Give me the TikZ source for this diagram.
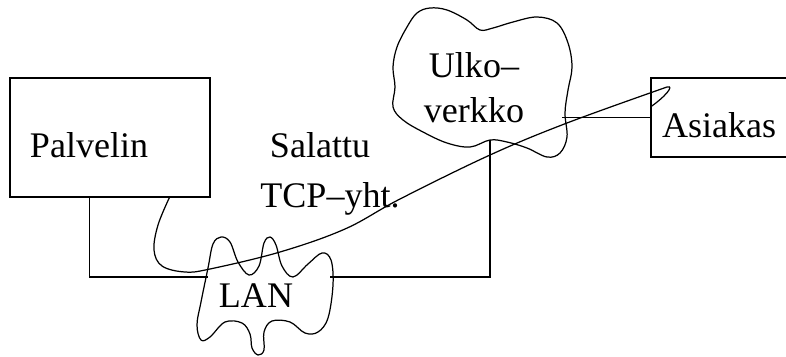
\documentclass[tikz,border=0pt]{standalone}
\usepackage{fontspec}
\setmainfont{Liberation Serif}
\usepackage{tikz}

\tikzset{
    laatikko/.style={draw,rectangle,align=left,text height=0.78cm,text depth=0cm},
    pilvi/.style={smooth cycle,tension=0.6},
}

\begin{document}
\begin{tikzpicture}[x=0.2mm,y=-0.2mm,line width=0.7pt,font=\fontsize{20.5}{25.6}\selectfont]
    \clip(0,0)rectangle(786,357);
    % 绘制两台主机
    \node[laatikko,text width=3.2cm,inner xsep=0.4cm,minimum height=2.38cm](palvelin)at(110,137.5){Palvelin};
    \node[laatikko,text width=2.6cm,inner xsep=0.22cm,minimum height=1.58cm](asiakas)at(727,117.5){Asiakas};
    % 绘制局域网
    \draw plot[pilvi]coordinates{(208,268)(213,244)(221,237)(230,242)(238,262)(249,275)(259,266)(264,243)(270,237)(276,245)(282,266)(293,277)(308,264)(322,253)(331,260)(333,285)(328,318)(318,332)(305,333)(290,322)(272,321)(264,332)(264,350)(258,355)(252,348)(250,334)(242,323)(225,322)(210,337)(201,340)(197,325)(201,302)};
    \node[anchor=base](lan)at(256,307){LAN};
    % 绘制外网
    \draw plot[pilvi]coordinates{(430,8)(447,10)(467,20)(480,30)(493,28)(513,22)(537,17)(557,23)(568,43)(572,67)(568,90)(565,113)(567,137)(560,153)(547,157)(527,148)(507,142)(490,140)(470,147)(447,143)(423,132)(403,120)(393,107)(395,87)(393,67)(397,47)(407,27)(417,13)};
    \node[align=center](ulko)at(474,88){Ulko--\\verkko};
    % 连线
    \coordinate(lanw)at(208,277);
    \coordinate(lane)at(330,277);
    \coordinate(ulkos)at(490,140);
    \coordinate(ulkoe)at(562,117.5);
    \draw([xshift=1.6cm]palvelin.south west)|-(lanw);
    \draw(lane)-|(ulkos);
    \draw(ulkoe)--(asiakas.west);
    % 加密连接
    \coordinate(salausalku)at([xshift=3.2cm]palvelin.south west);
    \coordinate(salausloppu)at([yshift=0.21cm]asiakas.west);
    \draw plot[smooth,tension=0.6]coordinates{(salausalku)(158,225)(154,250)(162,266)(185,272)(210,269)(280,252)(345,229)(400,199)(490,155)(567,123)(667,87)}
        ..controls(675,85)and(665,97)..(salausloppu);
    \node[anchor=base](salattu)at(320,157){Salattu};
    \node[anchor=base](tcp)at(330,207){TCP--yht.};
\end{tikzpicture}
\end{document}
